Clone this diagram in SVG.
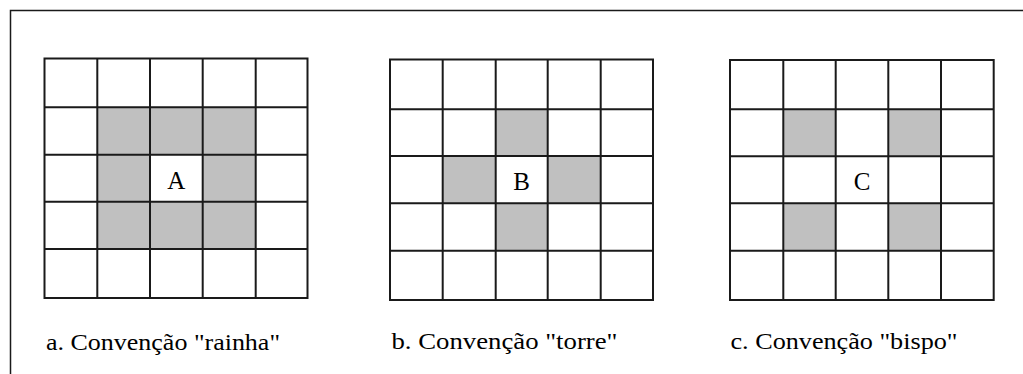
<svg xmlns="http://www.w3.org/2000/svg" width="1023" height="374" viewBox="0 0 1023 374">
<style>
.grid{fill:none;stroke:#1a1a1a;stroke-width:2}
.sh{fill:#c0c0c0;stroke:none}
.lt{font-size:25px;fill:#000;text-anchor:middle}
.cap{font-size:23px;fill:#000}
</style>
<rect width="1023" height="374" fill="#fff"/>
<path d="M10.5,374 V10.5 H1023" fill="none" stroke="#1a1a1a" stroke-width="1.5"/>
<g id="gridA">
<rect class="sh" x="97.3" y="107.3" width="158.4" height="141.7"/>
<rect x="150" y="154.7" width="52.7" height="47" fill="#fff"/>
<path class="grid" d="M44.5,58.5H307.5V298H44.5Z M97.3,58.5V298 M150,58.5V298 M202.7,58.5V298 M255.7,58.5V298 M44.5,107.3H307.5 M44.5,154.7H307.5 M44.5,201.7H307.5 M44.5,249H307.5"/>
<text class="lt" font-family="Liberation Serif, Times New Roman, serif" x="176.3" y="188.5">A</text>
<text class="cap" font-family="Liberation Serif, Times New Roman, serif" x="46" y="350" textLength="234" lengthAdjust="spacingAndGlyphs">a. Convenção "rainha"</text>
</g>
<g id="gridB">
<rect class="sh" x="495.7" y="109.3" width="52" height="46.7"/>
<rect class="sh" x="442.7" y="156" width="53" height="47.3"/>
<rect class="sh" x="547.7" y="156" width="53" height="47.3"/>
<rect class="sh" x="495.7" y="203.3" width="52" height="47.4"/>
<path class="grid" d="M390,59.5H653V300H390Z M442.7,59.5V300 M495.7,59.5V300 M547.7,59.5V300 M600.7,59.5V300 M390,109.3H653 M390,156H653 M390,203.3H653 M390,250.7H653"/>
<text class="lt" font-family="Liberation Serif, Times New Roman, serif" x="521.7" y="189.5">B</text>
<text class="cap" font-family="Liberation Serif, Times New Roman, serif" x="391.5" y="349" textLength="226" lengthAdjust="spacingAndGlyphs">b. Convenção "torre"</text>
</g>
<g id="gridC">
<rect class="sh" x="783.3" y="109.3" width="52.4" height="47"/>
<rect class="sh" x="888.3" y="109.3" width="52.7" height="47"/>
<rect class="sh" x="783.3" y="203.3" width="52.4" height="47.4"/>
<rect class="sh" x="888.3" y="203.3" width="52.7" height="47.4"/>
<path class="grid" d="M730,60H993.7V300H730Z M783.3,60V300 M835.7,60V300 M888.3,60V300 M941,60V300 M730,109.3H993.7 M730,156.3H993.7 M730,203.3H993.7 M730,250.7H993.7"/>
<text class="lt" font-family="Liberation Serif, Times New Roman, serif" x="862" y="189.5">C</text>
<text class="cap" font-family="Liberation Serif, Times New Roman, serif" x="730.5" y="349" textLength="227" lengthAdjust="spacingAndGlyphs">c. Convenção "bispo"</text>
</g>
</svg>
